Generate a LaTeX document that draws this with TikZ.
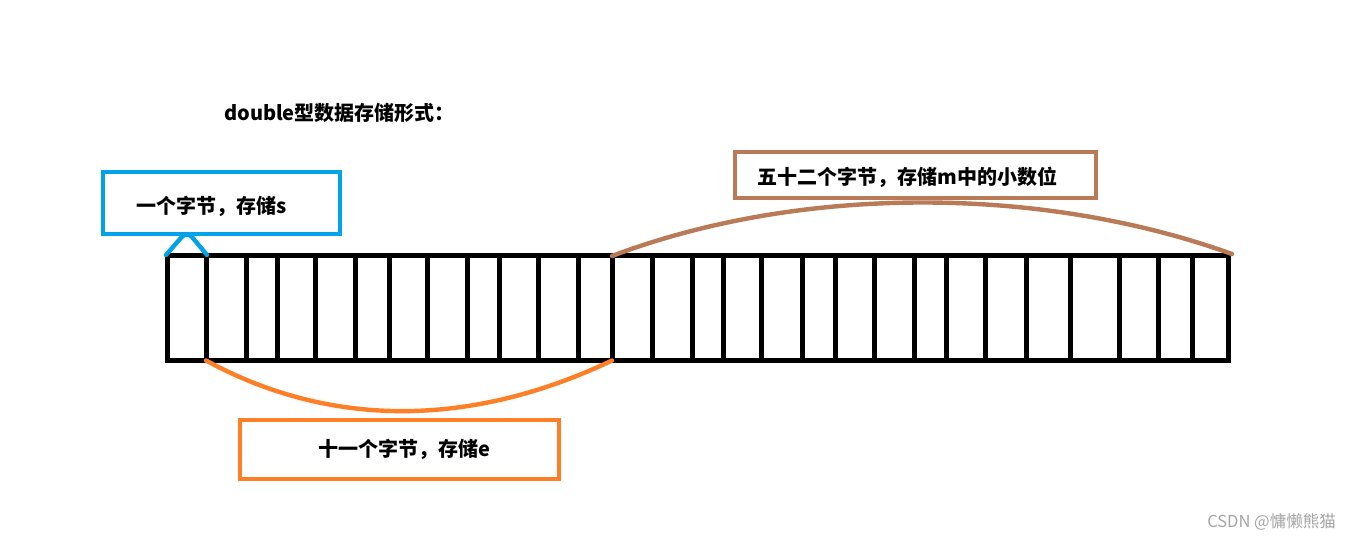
\documentclass[tikz,border=0pt]{standalone}
\usepackage{fontspec}
\newfontfamily\cjk{Noto Sans CJK SC}
\definecolor{pblue}{RGB}{0,162,232}
\definecolor{porange}{RGB}{255,127,39}
\definecolor{pbrown}{RGB}{185,122,87}
\definecolor{wmgray}{RGB}{165,165,165}
\tikzset{
  cellline/.style={line width=5pt, black},
  boxframe/.style={draw=#1, line width=4.6pt, inner sep=0pt},
  lbl/.style={font=\cjk\bfseries\fontsize{20}{23}\selectfont, inner sep=0pt, text=black},
  brace/.style={draw=#1, line width=4.4pt, line cap=round}
}
\begin{document}
\begin{tikzpicture}[x=1pt,y=-1pt]
\useasboundingbox (0,0) rectangle (1355,540);
\fill[white] (0,0) rectangle (1355,540);

% title
\node[lbl, anchor=west] (title) at (224,113) {double型数据存储形式：};

% boxes
\node[boxframe=pblue, minimum width=237pt, minimum height=62pt] (sbox) at (221.5,203) {};
\node[lbl] (stext) at (212,206) {一个字节，存储s};

\node[boxframe=pbrown, minimum width=361pt, minimum height=46pt] (mbox) at (915.5,175) {};
\node[lbl] (mtext) at (907.5,177) {五十二个字节，存储m中的小数位};

\node[boxframe=porange, minimum width=319pt, minimum height=59pt] (ebox) at (399.5,449.5) {};
\node[lbl] (etext) at (404,449) {十一个字节，存储e};

% cells
\coordinate (c0t) at (166,255);
\coordinate (speak) at (187,231);
\coordinate (c1t) at (207,255);
\coordinate (c1b) at (206,360.5);
\coordinate (c12t) at (612,256);
\coordinate (c12b) at (612,360.5);
\coordinate (cendt) at (1232,254);
\draw[cellline] (167,256) rectangle (1228,360.5);
\foreach \x in {206,246,277,315,355,389,427,467,499,538,578,612,652,692,723,761,802,835,874,914,946,985,1026,1070,1119,1158,1192}
  \draw[cellline] (\x,256) -- (\x,360.5);

% braces
\draw[brace=pblue, rounded corners=8pt] (c0t) -- (speak) -- (c1t);
\draw[brace=porange] (c1b) .. controls (330,428) and (470,428) .. (c12b);
\draw[brace=pbrown] (c12t) .. controls (800,185) and (1040,185) .. (cendt);

% watermark
\node[font=\cjk\fontsize{16.5}{18}\selectfont, text=wmgray, inner sep=0pt] (wm) at (1271.5,522) {CSDN @慵懒熊猫};
\end{tikzpicture}
\end{document}
